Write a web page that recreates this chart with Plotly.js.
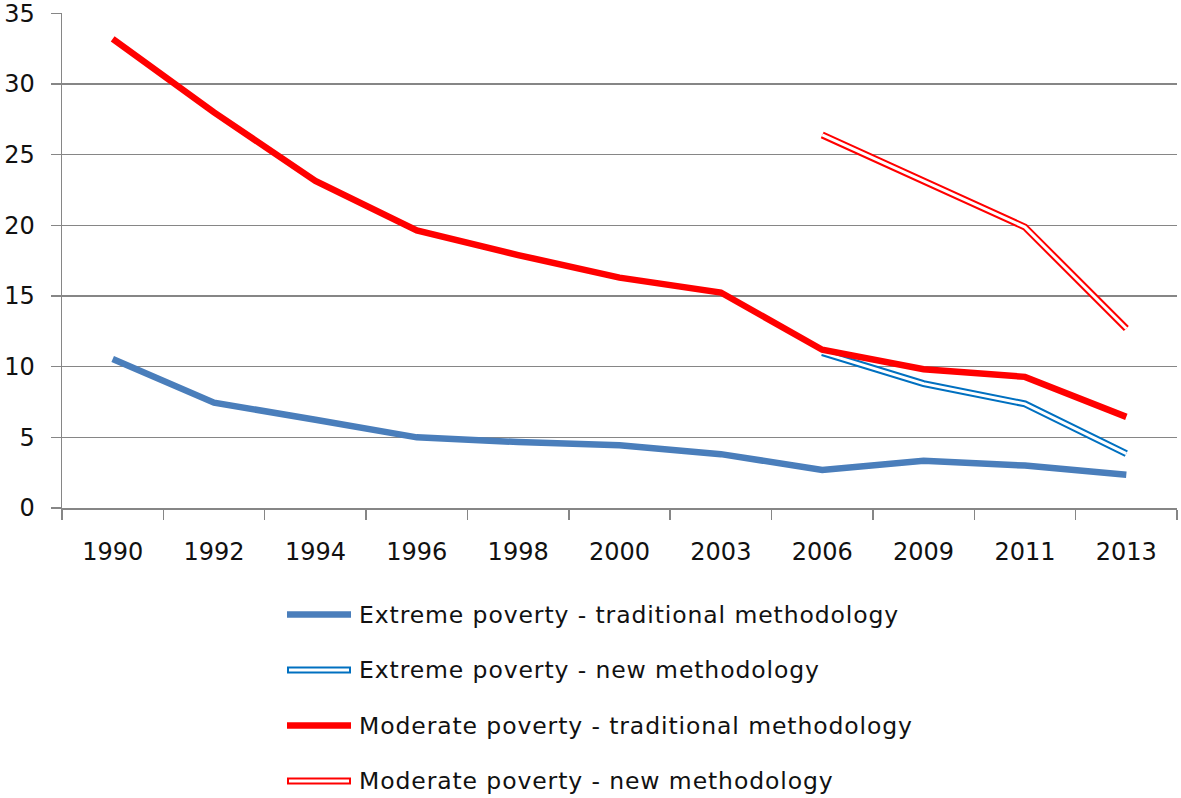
<!DOCTYPE html>
<html>
<head>
<meta charset="utf-8">
<script src="https://cdn.plot.ly/plotly-3.0.1.min.js"></script>
<style>
  html, body { margin: 0; padding: 0; background: #fff; }
  #chart { width: 1181px; height: 798px; }
  .annotation-text { letter-spacing: 0.9px; }
</style>
</head>
<body>
<div id="chart"></div>
<script>
const years = ["1990","1992","1994","1996","1998","2000","2003","2006","2009","2011","2013"];
const extremeTraditional = [10.55, 7.45, 6.25, 5.0, 4.67, 4.44, 3.81, 2.69, 3.35, 3.0, 2.35];
const extremeNew = [null, null, null, null, null, null, null, 11.0, 8.8, 7.37, 3.85];
const moderateTraditional = [33.2, 28.0, 23.15, 19.65, 17.9, 16.3, 15.25, 11.2, 9.82, 9.28, 6.45];
const moderateNew = [null, null, null, null, null, null, null, 26.4, 23.15, 19.88, 12.7];
const seriesNames = [
  "Extreme poverty - traditional methodology",
  "Extreme poverty - new methodology",
  "Moderate poverty - traditional methodology",
  "Moderate poverty - new methodology"
];
const yTicks = [0, 5, 10, 15, 20, 25, 30, 35];

const BLUE_TRAD = "#4a7ebb";
const BLUE_NEW = "#0070c0";
const RED = "#ff0000";

function solid(y, color) {
  return { x: years, y: y, type: "scatter", mode: "lines", showlegend: false, hoverinfo: "skip",
           line: { color: color, width: 6.5, shape: "linear" }, connectgaps: false };
}
function dbl(y, color) {
  return [
    { x: years, y: y, type: "scatter", mode: "lines", showlegend: false, hoverinfo: "skip",
      line: { color: color, width: 7 } },
    { x: years, y: y, type: "scatter", mode: "lines", showlegend: false, hoverinfo: "skip",
      line: { color: "#ffffff", width: 3 } }
  ];
}

const traces = [solid(extremeTraditional, BLUE_TRAD)]
  .concat(dbl(extremeNew, BLUE_NEW))
  .concat([solid(moderateTraditional, RED)])
  .concat(dbl(moderateNew, RED));

// manual legend (paper coords): plot area 62..1177 x, 13..508 y
const L = 62, R = 1177, T = 13, B = 508;
const px = v => (v - L) / (R - L);
const py = v => (B - v) / (B - T);
const legendRows = [614.5, 670, 725.5, 781];
const legendColors = [BLUE_TRAD, BLUE_NEW, RED, RED];
const legendDouble = [false, true, false, true];
const shapes = [];
const annotations = [];
legendRows.forEach((ry, i) => {
  if (legendDouble[i]) {
    shapes.push({ type: "line", xref: "paper", yref: "paper", x0: px(287), x1: px(351), y0: py(ry), y1: py(ry),
                  line: { color: legendColors[i], width: 7 } });
    shapes.push({ type: "line", xref: "paper", yref: "paper", x0: px(289), x1: px(349), y0: py(ry), y1: py(ry),
                  line: { color: "#ffffff", width: 3 } });
  } else {
    shapes.push({ type: "line", xref: "paper", yref: "paper", x0: px(287), x1: px(351), y0: py(ry), y1: py(ry),
                  line: { color: legendColors[i], width: 6.5 } });
  }
  annotations.push({ xref: "paper", yref: "paper", x: px(357), y: py(ry), xanchor: "left", yanchor: "middle",
                     showarrow: false, text: seriesNames[i],
                     font: { family: "DejaVu Sans", size: 23.5, color: "#111111" } });
});

const layout = {
  width: 1181, height: 798,
  margin: { l: L, r: 1181 - R, t: T, b: 798 - B, pad: 0 },
  paper_bgcolor: "#ffffff", plot_bgcolor: "#ffffff",
  showlegend: false,
  font: { family: "DejaVu Sans", size: 24, color: "#111111" },
  xaxis: {
    type: "category", categoryorder: "array", categoryarray: years,
    range: [-0.5, 10.5], showgrid: false, zeroline: false,
    showline: true, linecolor: "#868686", linewidth: 1.5,
    ticks: "outside", tickson: "boundaries", ticklen: 10, tickcolor: "#868686", tickwidth: 1.5,
    ticklabelstandoff: 22,
    tickfont: { family: "DejaVu Sans", size: 24, color: "#111111" },
    fixedrange: true
  },
  yaxis: {
    range: [0, 35.03], tickvals: yTicks, ticktext: yTicks.map(String),
    showgrid: true, gridcolor: "#868686", gridwidth: 1.5, zeroline: false,
    showline: true, linecolor: "#868686", linewidth: 1.5,
    ticks: "outside", ticklen: 10, tickcolor: "#868686", tickwidth: 1.5,
    ticklabelstandoff: 11, ticklabeloverflow: "allow",
    tickfont: { family: "DejaVu Sans", size: 24, color: "#111111" },
    fixedrange: true
  },
  shapes: shapes,
  annotations: annotations
};

Plotly.newPlot("chart", traces, layout, { staticPlot: true, displayModeBar: false });
</script>
</body>
</html>
